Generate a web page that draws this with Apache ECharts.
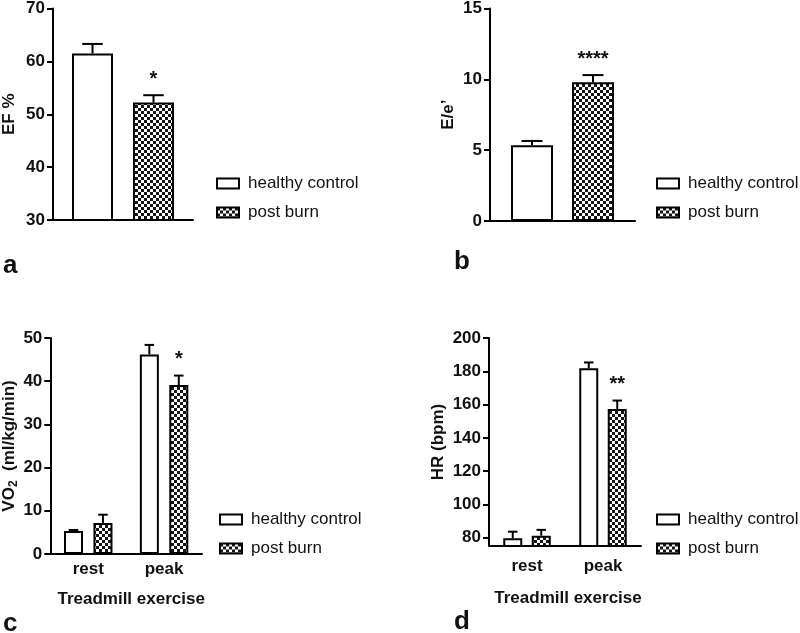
<!DOCTYPE html>
<html>
<head>
<meta charset="utf-8">
<script src="https://cdn.jsdelivr.net/npm/echarts@6/dist/echarts.min.js"></script>
<style>
html,body{margin:0;padding:0;background:#fff;}
#chart{width:800px;height:633px;}
</style>
</head>
<body>
<div id="chart"></div>
<script>
// ---------- data ----------
const groups = ['healthy control', 'post burn'];

// panel a: ejection fraction
const efMean = [61.5, 52.2];
const efErr = [1.8, 1.4];
const efSig = ['', '*'];
const efTicks = [30, 40, 50, 60, 70];

// panel b: E/e'
const eeMean = [5.35, 9.8];
const eeErr = [0.3, 0.5];
const eeSig = ['', '****'];
const eeTicks = [0, 5, 10, 15];

// panel c: VO2
const exCats = ['rest', 'peak'];
const vo2Control = [5.3, 46.2];
const vo2ControlErr = [0.25, 2.2];
const vo2Burn = [7.2, 39.1];
const vo2BurnErr = [1.9, 2.2];
const vo2BurnSig = ['', '*'];
const vo2Ticks = [0, 10, 20, 30, 40, 50];

// panel d: heart rate
const hrControl = [79.6, 181.8];
const hrControlErr = [4.0, 3.5];
const hrBurn = [81.2, 157.4];
const hrBurnErr = [3.5, 5.0];
const hrBurnSig = ['', '**'];
const hrTicks = [80, 100, 120, 140, 160, 180, 200];

// ---------- styling ----------
const FONT = '"Liberation Sans", Arial, Helvetica, sans-serif';
const TXT = '#111';

function makePattern() {
  const c = document.createElement('canvas');
  c.width = 6; c.height = 6;
  const g = c.getContext('2d');
  g.fillStyle = '#ffffff'; g.fillRect(0, 0, 6, 6);
  g.fillStyle = '#151515';
  g.fillRect(0, 0, 3, 3);
  g.fillRect(3, 3, 3, 3);
  return { image: c, repeat: 'repeat' };
}
const hatch = makePattern();
const fills = ['#ffffff', hatch];

const chart = echarts.init(document.getElementById('chart'), null, { renderer: 'canvas' });

function yAxisBase(gridIndex, name, nameGap, min, max, interval, extra) {
  const ax = {
    type: 'value', gridIndex, min, max,
    name, nameLocation: 'middle', nameGap, nameRotate: 90,
    nameTextStyle: { fontFamily: FONT, fontWeight: 'bold', fontSize: 17, color: TXT },
    axisLine: { show: true, lineStyle: { color: '#000', width: 2 } },
    axisTick: { show: true, length: 6, lineStyle: { color: '#000', width: 2 } },
    axisLabel: { fontFamily: FONT, fontWeight: 'bold', fontSize: 17, color: TXT, margin: 8 },
    splitLine: { show: false }
  };
  if (interval != null) ax.interval = interval;
  return Object.assign(ax, extra || {});
}

function xAxisBase(gridIndex, data, showLabel, name, nameGap, labelMargin, namePad) {
  return {
    type: 'category', gridIndex, data,
    name: name || '', nameLocation: 'middle', nameGap: nameGap || 30,
    nameTextStyle: { fontFamily: FONT, fontWeight: 'bold', fontSize: 17, color: TXT, padding: namePad || 0 },
    axisLine: { show: true, lineStyle: { color: '#000', width: 2 } },
    axisTick: { show: false },
    axisLabel: { show: showLabel, fontFamily: FONT, fontWeight: 'bold', fontSize: 17, color: TXT, margin: labelMargin || 6 },
    splitLine: { show: false }
  };
}

function barSeries(name, axisIndex, data, idx, barWidth, barGap) {
  return {
    type: 'bar', name, xAxisIndex: axisIndex, yAxisIndex: axisIndex,
    data, barWidth, barGap,
    silent: true,
    itemStyle: { color: fills[idx], borderColor: '#000', borderWidth: 2 },
    z: 2
  };
}

// error bars (upward only) with significance stars, drawn on the chart's scales
function errSeries(axisIndex, items, barWidth, gapFrac) {
  return {
    type: 'custom', name: 'err' + axisIndex, xAxisIndex: axisIndex, yAxisIndex: axisIndex,
    silent: true, clip: false, z: 5,
    data: items.map(it => [it.cat, it.mean + it.err]),
    renderItem: function (params, api) {
      const it = items[params.dataIndex];
      const top = api.coord([it.cat, it.mean + it.err]);
      const base = api.coord([it.cat, it.mean]);
      const step = barWidth + barWidth * gapFrac;
      const x = top[0] + (it.slot - 0.5) * step;
      const half = barWidth / 4;
      const children = [
        { type: 'line', shape: { x1: x, y1: base[1], x2: x, y2: top[1] }, style: { stroke: '#000', lineWidth: 2 } },
        { type: 'line', shape: { x1: x - half, y1: top[1], x2: x + half, y2: top[1] }, style: { stroke: '#000', lineWidth: 2 } }
      ];
      if (it.sig) {
        children.push({
          type: 'text',
          style: { text: it.sig, x: x, y: top[1] - 6, textAlign: 'center', textVerticalAlign: 'bottom',
                   font: 'bold 20px ' + FONT, fill: TXT }
        });
      }
      return { type: 'group', children };
    }
  };
}

const wA = 41, gA = 20 / 41;
const wB = 42, gB = 19 / 42;
const wC = 19, gC = 0.55;
const wD = 19, gD = 0.5;

const itemsA = efMean.map((m, i) => ({ cat: 0, slot: i, mean: m, err: efErr[i], sig: efSig[i] }));
const itemsB = eeMean.map((m, i) => ({ cat: 0, slot: i, mean: m, err: eeErr[i], sig: eeSig[i] }));
const itemsC = [];
exCats.forEach((c, k) => {
  itemsC.push({ cat: k, slot: 0, mean: vo2Control[k], err: vo2ControlErr[k], sig: '' });
  itemsC.push({ cat: k, slot: 1, mean: vo2Burn[k], err: vo2BurnErr[k], sig: vo2BurnSig[k] });
});
const itemsD = [];
exCats.forEach((c, k) => {
  itemsD.push({ cat: k, slot: 0, mean: hrControl[k], err: hrControlErr[k], sig: '' });
  itemsD.push({ cat: k, slot: 1, mean: hrBurn[k], err: hrBurnErr[k], sig: hrBurnSig[k] });
});

function legendAt(left, top) {
  return {
    data: groups, orient: 'vertical', left, top,
    icon: 'rect', itemWidth: 22, itemHeight: 10, itemGap: 12,
    selectedMode: false,
    itemStyle: { borderColor: '#000', borderWidth: 2 },
    textStyle: { fontFamily: FONT, fontSize: 17, color: TXT, padding: [0, 0, 0, 4] }
  };
}

const option = {
  animation: false,
  backgroundColor: '#fff',
  grid: [
    { left: 50, top: 6, width: 143, height: 214 },
    { left: 490, top: 6, width: 145, height: 215 },
    { left: 46, top: 338, width: 156, height: 216 },
    { left: 489, top: 338, width: 152, height: 208 }
  ],
  xAxis: [
    xAxisBase(0, [''], false),
    xAxisBase(1, [''], false),
    xAxisBase(2, exCats, true, 'Treadmill exercise', 37, 7, [0, 0, 0, 10]),
    xAxisBase(3, exCats, true, 'Treadmill exercise', 44, 12, [0, 0, 0, 6])
  ],
  yAxis: [
    yAxisBase(0, 'EF %', 35, efTicks[0], efTicks[efTicks.length - 1], 10),
    yAxisBase(1, 'E/e\u2019', 33, eeTicks[0], eeTicks[eeTicks.length - 1], 5),
    yAxisBase(2, 'VO{sub|2}  (ml/kg/min)', 29, vo2Ticks[0], vo2Ticks[vo2Ticks.length - 1], 10),
    yAxisBase(3, 'HR (bpm)', 42, 75, hrTicks[hrTicks.length - 1], null, {})
  ],
  legend: [legendAt(211, 170), legendAt(651, 170), legendAt(214, 506), legendAt(651, 506)],
  series: [
    barSeries(groups[0], 0, [efMean[0]], 0, wA, (gA * 100) + '%'),
    barSeries(groups[1], 0, [efMean[1]], 1, wA, (gA * 100) + '%'),
    errSeries(0, itemsA, wA, gA),
    barSeries(groups[0], 1, [eeMean[0]], 0, wB, (gB * 100) + '%'),
    barSeries(groups[1], 1, [eeMean[1]], 1, wB, (gB * 100) + '%'),
    errSeries(1, itemsB, wB, gB),
    barSeries(groups[0], 2, vo2Control, 0, wC, (gC * 100) + '%'),
    barSeries(groups[1], 2, vo2Burn, 1, wC, (gC * 100) + '%'),
    errSeries(2, itemsC, wC, gC),
    barSeries(groups[0], 3, hrControl, 0, wD, (gD * 100) + '%'),
    barSeries(groups[1], 3, hrBurn, 1, wD, (gD * 100) + '%'),
    errSeries(3, itemsD, wD, gD)
  ],
  graphic: [
    { type: 'text', left: 3, top: 253, style: { text: 'a', font: 'bold 26px ' + FONT, fill: TXT } },
    { type: 'text', left: 454, top: 249, style: { text: 'b', font: 'bold 26px ' + FONT, fill: TXT } },
    { type: 'text', left: 3, top: 611, style: { text: 'c', font: 'bold 26px ' + FONT, fill: TXT } },
    { type: 'text', left: 454, top: 609, style: { text: 'd', font: 'bold 26px ' + FONT, fill: TXT } }
  ]
};

// subscript for VO2 label
option.yAxis[2].nameTextStyle.rich = {
  sub: { fontFamily: FONT, fontWeight: 'bold', fontSize: 12, color: TXT, verticalAlign: 'bottom', padding: [8, 0, 0, 0] }
};
// HR axis ticks at custom values (axis starts below 80)
option.yAxis[3].axisTick.customValues = hrTicks;
option.yAxis[3].axisLabel.customValues = hrTicks;

chart.setOption(option);
</script>
</body>
</html>
